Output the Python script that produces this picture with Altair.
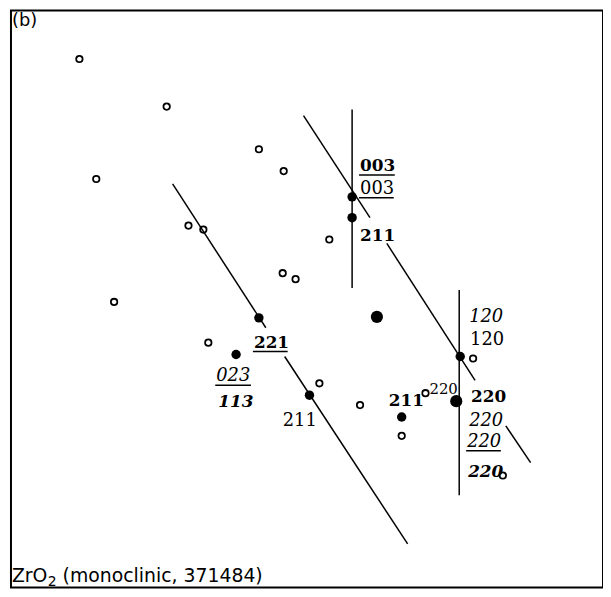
import altair as alt
import pandas as pd

# Open (hollow) diffraction spots
open_x = [80, 168, 97, 261, 286, 190, 205, 115, 332, 285, 298, 210, 322, 363, 477, 429, 405, 507]
open_y = [57, 105, 178, 148, 170, 225, 229, 302, 239, 273, 279, 343, 384, 406, 359, 394, 437, 477]

# Filled spots
filled_x = [355, 355, 261, 238, 312, 405, 464]
filled_y = [196, 217, 318, 355, 396, 418, 357]

# Large filled spots
big_x = [380, 460]
big_y = [317, 402]

# Line segments (zone lines)
seg_x1 = [306, 390, 510, 174, 287, 355, 463]
seg_y1 = [114, 243, 427, 183, 357, 108, 290]
seg_x2 = [373, 479, 535, 268, 411, 355, 463]
seg_y2 = [217, 381, 464, 328, 546, 288, 497]

# Index labels
lab_text = ["003", "003", "211", "221", "023", "113", "211", "120", "120", "211",
            "220", "220", "220", "220", "220"]
lab_x = [363, 363, 363, 256, 218, 220, 285, 473, 474, 392, 433, 475, 473, 471, 472]
lab_y = [170, 193, 241, 348, 382, 408, 427, 322, 345, 407, 395, 403, 427, 448, 478]
lab_style = ["bold", "regular", "bold", "bold", "italic", "italicbold", "regular", "italic",
             "regular", "bold", "small", "bold", "italic", "italic", "italicbold"]

# Underlines of labels
ul_x1 = [362, 362, 255, 217, 470]
ul_x2 = [398, 397, 290, 253, 505]
ul_y = [174, 197, 352, 386, 452]

# Sans annotations
ann_text = ["(b)", "ZrO", "2", "(monoclinic, 371484)"]
ann_x = [12, 12, 48, 63]
ann_y = [24, 584, 588, 584]
ann_size = [18, 19, 14, 19]

xs = alt.Scale(domain=[11, 608])
ys = alt.Scale(domain=[8, 590], reverse=True)

def X(f="x"):
    return alt.X(f"{f}:Q", scale=xs, axis=None)

def Y(f="y"):
    return alt.Y(f"{f}:Q", scale=ys, axis=None)

seg_df = pd.DataFrame({"x": seg_x1, "y": seg_y1, "x2": seg_x2, "y2": seg_y2})
open_df = pd.DataFrame({"x": open_x, "y": open_y})
filled_df = pd.DataFrame({"x": filled_x, "y": filled_y})
big_df = pd.DataFrame({"x": big_x, "y": big_y})
lab_df = pd.DataFrame({"t": lab_text, "x": lab_x, "y": lab_y, "s": lab_style})
ul_df = pd.DataFrame({"x": ul_x1, "x2": ul_x2, "y": ul_y})
ann_df = pd.DataFrame({"t": ann_text, "x": ann_x, "y": ann_y, "sz": ann_size})

lines = alt.Chart(seg_df).mark_rule(color="black", strokeWidth=1.5).encode(
    x=X(), y=Y(), x2="x2:Q", y2="y2:Q")

opens = alt.Chart(open_df).mark_point(shape="circle", filled=False, color="black",
                                      strokeWidth=1.8, size=42, opacity=1).encode(x=X(), y=Y())
filled = alt.Chart(filled_df).mark_circle(color="black", size=90, opacity=1).encode(x=X(), y=Y())
bigs = alt.Chart(big_df).mark_circle(color="black", size=150, opacity=1).encode(x=X(), y=Y())

def lab_layer(style, font_size, weight, fstyle):
    return alt.Chart(lab_df).transform_filter(alt.datum.s == style).mark_text(
        font="DejaVu Serif", fontSize=font_size, fontWeight=weight, fontStyle=fstyle,
        align="left", baseline="alphabetic", color="black").encode(x=X(), y=Y(), text="t:N")

labels = [
    lab_layer("regular", 18, "normal", "normal"),
    lab_layer("bold", 17, "bold", "normal"),
    lab_layer("italic", 18, "normal", "italic"),
    lab_layer("italicbold", 17, "bold", "italic"),
    lab_layer("small", 15, "normal", "normal"),
]

underlines = alt.Chart(ul_df).mark_rule(color="black", strokeWidth=1.5).encode(
    x=X(), x2="x2:Q", y=Y())

ann = alt.Chart(ann_df).mark_text(font="DejaVu Sans", align="left",
                                  baseline="alphabetic", color="black").encode(
    x=X(), y=Y(), text="t:N", size=alt.Size("sz:Q", scale=None, legend=None))

chart = alt.layer(lines, opens, filled, bigs, *labels, underlines, ann).properties(
    width=597, height=582, padding={"left": 3, "top": 0, "right": 0, "bottom": 0},
    autosize="none", background="white"
).configure_view(stroke="black", strokeWidth=2)

chart.save("out.html", embed_options={"renderer": "svg", "actions": False})
